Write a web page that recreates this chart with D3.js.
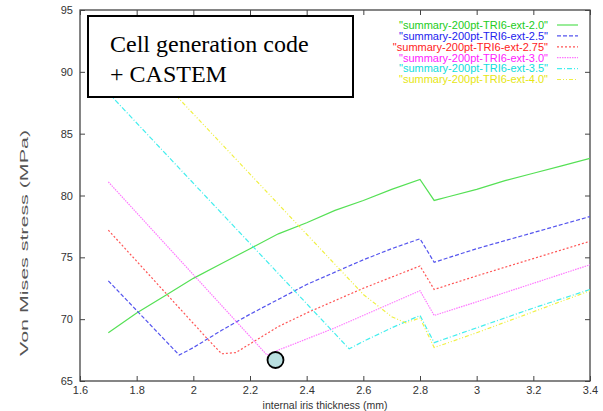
<!DOCTYPE html>
<html>
<head>
<meta charset="utf-8">
<script src="https://cdn.jsdelivr.net/npm/d3@7"></script>
<style>
  body { margin: 0; background: #fff; }
  svg { display: block; font-family: "Liberation Sans", Arial, sans-serif; }
</style>
</head>
<body>
<div id="chart"></div>
<script>
// --- data ---
const seriesNames = ["2.0", "2.5", "2.75", "3.0", "3.5", "4.0"];

const thick20  = [1.7, 1.8, 1.9, 2.0, 2.1, 2.2, 2.3, 2.4, 2.5, 2.6, 2.7, 2.8, 2.85, 2.9, 3.0, 3.1, 3.2, 3.3, 3.4];
const stress20 = [68.9, 70.5, 71.9, 73.3, 74.5, 75.7, 76.9, 77.8, 78.8, 79.6, 80.5, 81.3, 79.6, 79.9, 80.5, 81.2, 81.8, 82.4, 83.0];

const thick25  = [1.7, 1.95, 2.0, 2.1, 2.2, 2.3, 2.4, 2.5, 2.6, 2.7, 2.8, 2.85, 3.0, 3.2, 3.4];
const stress25 = [73.1, 67.1, 67.7, 69.1, 70.4, 71.6, 72.8, 73.8, 74.8, 75.7, 76.5, 74.6, 75.7, 77.0, 78.3];

const thick275  = [1.7, 2.05, 2.1, 2.15, 2.2, 2.3, 2.4, 2.5, 2.6, 2.7, 2.8, 2.85, 3.0, 3.2, 3.4];
const stress275 = [77.2, 68.4, 67.2, 67.3, 68.0, 69.4, 70.5, 71.5, 72.5, 73.4, 74.3, 72.4, 73.5, 74.9, 76.3];

const thick30  = [1.7, 2.26, 2.3, 2.4, 2.5, 2.6, 2.7, 2.8, 2.85, 3.0, 3.2, 3.4];
const stress30 = [81.1, 67.1, 67.5, 68.4, 69.3, 70.3, 71.3, 72.3, 70.3, 71.4, 72.9, 74.4];

const thick35  = [1.7, 2.55, 2.6, 2.7, 2.8, 2.85, 3.0, 3.2, 3.4];
const stress35 = [88.3, 67.6, 68.2, 69.3, 70.3, 68.1, 69.3, 70.9, 72.4];

const thick40  = [1.7, 2.6, 2.7, 2.75, 2.8, 2.85, 3.0, 3.2, 3.4];
const stress40 = [93.9, 72.0, 70.2, 69.7, 70.1, 67.7, 68.9, 70.6, 72.3];

const xTicks = [1.6, 1.8, 2.0, 2.2, 2.4, 2.6, 2.8, 3.0, 3.2, 3.4];
const yTicks = [65, 70, 75, 80, 85, 90, 95];

const optimum = [2.29, 66.7]; // highlighted point

const allThick  = [thick20, thick25, thick275, thick30, thick35, thick40];
const allStress = [stress20, stress25, stress275, stress30, stress35, stress40];
const textColors = ["#22cc22", "#2222ee", "#ff2222", "#ff22ff", "#11dddd", "#e6e611"];
const lineColors = ["#55e055", "#5555ee", "#ff5555", "#ff77ff", "#44eeee", "#f0f044"];
const dashes = [null, "4,2", "2,2", "1.5,1", "5,2,1,2", "4,2,1,2,1,2"];

// --- layout ---
const W = 603, H = 411;
const pLeft = 80, pRight = 590, pTop = 10, pBottom = 381;

const svg = d3.select("#chart").append("svg").attr("width", W).attr("height", H);

const x = d3.scaleLinear().domain([1.6, 3.4]).range([pLeft, pRight]);
const y = d3.scaleLinear().domain([65, 95]).range([pBottom, pTop]);

svg.append("clipPath").attr("id", "plot-clip")
  .append("rect").attr("x", pLeft).attr("y", pTop).attr("width", pRight - pLeft).attr("height", pBottom - pTop);

// axes with inward ticks on all four sides
const axisColor = "#444";
const styleAxis = g => {
  g.select(".domain").remove();
  g.selectAll(".tick line").attr("stroke", axisColor).attr("stroke-width", 1);
  g.selectAll(".tick text").attr("fill", "#333").style("font-size", "11px");
};
svg.append("g").attr("transform", `translate(0,${pBottom})`)
  .call(d3.axisBottom(x).tickValues(xTicks).tickSize(-5).tickPadding(5).tickFormat(d3.format("")))
  .call(styleAxis);
svg.append("g").attr("transform", `translate(0,${pTop})`)
  .call(d3.axisTop(x).tickValues(xTicks).tickSize(-5).tickFormat(""))
  .call(styleAxis);
svg.append("g").attr("transform", `translate(${pLeft},0)`)
  .call(d3.axisLeft(y).tickValues(yTicks).tickSize(-5).tickPadding(7))
  .call(styleAxis);
svg.append("g").attr("transform", `translate(${pRight},0)`)
  .call(d3.axisRight(y).tickValues(yTicks).tickSize(-5).tickFormat(""))
  .call(styleAxis);

svg.append("rect").attr("x", pLeft).attr("y", pTop).attr("width", pRight - pLeft).attr("height", pBottom - pTop)
  .attr("fill", "none").attr("stroke", axisColor).attr("stroke-width", 1.3);

// axis titles
svg.append("text").attr("x", 325).attr("y", 409)
  .attr("text-anchor", "middle").style("font-size", "10.5px").attr("fill", "#333")
  .text("internal iris thickness (mm)");
svg.append("text").attr("transform", "translate(28,243) rotate(-90)")
  .attr("text-anchor", "middle").style("font-size", "10px").attr("fill", "#555")
  .attr("textLength", 226).attr("lengthAdjust", "spacingAndGlyphs")
  .text("Von Mises stress (MPa)");

// curves
const line = d3.line().x(d => x(d[0])).y(d => y(d[1]));
const plot = svg.append("g").attr("clip-path", "url(#plot-clip)");
seriesNames.forEach((n, i) => {
  const pts = allThick[i].map((t, j) => [t, allStress[i][j]]);
  plot.append("path").datum(pts).attr("d", line)
    .attr("fill", "none").attr("stroke", lineColors[i]).attr("stroke-width", 1.2)
    .attr("stroke-dasharray", dashes[i]);
});

// legend
const legend = svg.append("g");
seriesNames.forEach((n, i) => {
  const ly = 25 + i * 10.9;
  legend.append("text").attr("x", 548).attr("y", ly).attr("dy", "0.35em")
    .attr("text-anchor", "end").style("font-size", "11px").attr("fill", textColors[i])
    .text(`"summary-200pt-TRI6-ext-${n}"`);
  legend.append("line").attr("x1", 557).attr("x2", 578).attr("y1", ly).attr("y2", ly)
    .attr("stroke", lineColors[i]).attr("stroke-width", 1.2).attr("stroke-dasharray", dashes[i]);
});

// annotation box
svg.append("rect").attr("x", 88).attr("y", 16).attr("width", 265).attr("height", 81)
  .attr("fill", "#fff").attr("stroke", "#000").attr("stroke-width", 2);
svg.append("text").attr("x", 110).attr("y", 52)
  .style("font-family", "'Liberation Serif', 'Times New Roman', serif").style("font-size", "24px")
  .text("Cell generation code");
svg.append("text").attr("x", 110).attr("y", 82)
  .style("font-family", "'Liberation Serif', 'Times New Roman', serif").style("font-size", "24px")
  .text("+ CASTEM");

// highlighted optimum
svg.append("circle").attr("cx", x(optimum[0])).attr("cy", y(optimum[1])).attr("r", 8)
  .attr("fill", "#b9dfe0").attr("stroke", "#000").attr("stroke-width", 1.8);
</script>
</body>
</html>
